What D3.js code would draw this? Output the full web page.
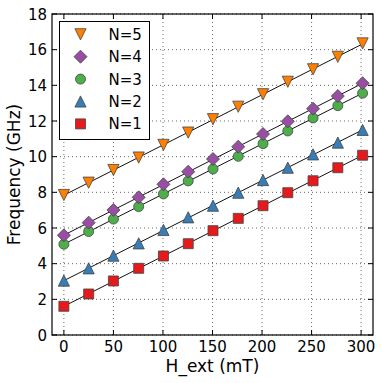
<!DOCTYPE html>
<html>
<head>
<meta charset="utf-8">
<script src="https://cdn.jsdelivr.net/npm/d3@7"></script>
<style>
  body { margin: 0; background: #fff; }
  svg text { font-family: "DejaVu Sans", sans-serif; fill: #000; }
</style>
</head>
<body>
<svg id="chart" width="382" height="383"></svg>
<script>
// --- data ---
const fieldValues = [0, 25, 50, 75.5, 100.5, 125.5, 150.5, 176, 201, 226, 251.5, 276.5, 301.5];
const freqN1 = [1.61, 2.3, 3.03, 3.74, 4.43, 5.12, 5.85, 6.54, 7.25, 7.98, 8.65, 9.38, 10.08];
const freqN2 = [3.05, 3.74, 4.45, 5.14, 5.89, 6.6, 7.25, 7.98, 8.69, 9.38, 10.13, 10.79, 11.5];
const freqN3 = [5.09, 5.8, 6.5, 7.2, 7.91, 8.64, 9.31, 10.02, 10.73, 11.44, 12.17, 12.86, 13.56];
const freqN4 = [5.59, 6.3, 7.01, 7.72, 8.45, 9.16, 9.87, 10.56, 11.27, 11.98, 12.69, 13.4, 14.12];
const freqN5 = [7.85, 8.54, 9.25, 9.95, 10.66, 11.35, 12.1, 12.8, 13.5, 14.2, 14.9, 15.6, 16.35];
const xTicks = [0, 50, 100, 150, 200, 250, 300];
const yTicks = [0, 2, 4, 6, 8, 10, 12, 14, 16, 18];

const series = [
  { name: "N=5", values: freqN5, color: "#ff7f00", shape: "down" },
  { name: "N=4", values: freqN4, color: "#984ea3", shape: "diamond" },
  { name: "N=3", values: freqN3, color: "#4daf4a", shape: "circle" },
  { name: "N=2", values: freqN2, color: "#377eb8", shape: "up" },
  { name: "N=1", values: freqN1, color: "#e41a1c", shape: "square" },
];

// --- layout ---
const margin = { top: 14, right: 9, bottom: 48, left: 52 };
const width = 382, height = 383;
const innerW = width - margin.left - margin.right;
const innerH = height - margin.top - margin.bottom;

const x = d3.scaleLinear().domain([-12, 312]).range([0, innerW]);
const y = d3.scaleLinear().domain([0, 18]).range([innerH, 0]);

const svg = d3.select("#chart");
const g = svg.append("g").attr("transform", `translate(${margin.left},${margin.top})`);

// grid
g.append("g").selectAll("line").data(xTicks).join("line")
  .attr("x1", d => x(d)).attr("x2", d => x(d))
  .attr("y1", 0).attr("y2", innerH)
  .attr("stroke", "#000").attr("stroke-width", 0.6)
  .attr("stroke-dasharray", "1,3");
g.append("g").selectAll("line").data(yTicks).join("line")
  .attr("x1", 0).attr("x2", innerW)
  .attr("y1", d => y(d)).attr("y2", d => y(d))
  .attr("stroke", "#000").attr("stroke-width", 0.6)
  .attr("stroke-dasharray", "1,3");

// tick marks inside, on all four sides
const tl = 5;
const ticks = g.append("g").attr("stroke", "#000").attr("stroke-width", 1);
xTicks.forEach(t => {
  ticks.append("line").attr("x1", x(t)).attr("x2", x(t)).attr("y1", innerH).attr("y2", innerH - tl);
  ticks.append("line").attr("x1", x(t)).attr("x2", x(t)).attr("y1", 0).attr("y2", tl);
});
yTicks.forEach(t => {
  ticks.append("line").attr("x1", 0).attr("x2", tl).attr("y1", y(t)).attr("y2", y(t));
  ticks.append("line").attr("x1", innerW).attr("x2", innerW - tl).attr("y1", y(t)).attr("y2", y(t));
});

// tick labels
g.append("g").selectAll("text").data(xTicks).join("text")
  .attr("x", d => x(d)).attr("y", innerH + 17)
  .attr("text-anchor", "middle").attr("font-size", 15)
  .text(d => d);
g.append("g").selectAll("text").data(yTicks).join("text")
  .attr("x", -5).attr("y", d => y(d) + 5.5)
  .attr("text-anchor", "end").attr("font-size", 15)
  .text(d => d);

// axis labels
svg.append("text")
  .attr("x", margin.left + x(150)).attr("y", 372)
  .attr("text-anchor", "middle").attr("font-size", 17)
  .text("H_ext (mT)");
svg.append("text")
  .attr("transform", `translate(20,${margin.top + innerH / 2}) rotate(-90)`)
  .attr("text-anchor", "middle").attr("font-size", 17)
  .text("Frequency (GHz)");

// markers
function markerPath(shape) {
  const r = 5.6;
  switch (shape) {
    case "down": return `M0,${r}L${-r},${-r}L${r},${-r}Z`;
    case "up": return `M0,${-r}L${-r},${r}L${r},${r}Z`;
    case "diamond": return `M0,${-6.5}L6.5,0L0,6.5L-6.5,0Z`;
    case "square": return `M-5,-5H5V5H-5Z`;
    default: return d3.symbol(d3.symbolCircle, Math.PI * 25)();
  }
}

// linear fit lines, drawn first so markers sit on top
function fit(xs, ys) {
  const mx = d3.mean(xs), my = d3.mean(ys);
  let num = 0, den = 0;
  xs.forEach((v, i) => { num += (v - mx) * (ys[i] - my); den += (v - mx) ** 2; });
  const k = num / den;
  return v => my + k * (v - mx);
}

series.forEach(s => {
  const f = fit(fieldValues, s.values);
  const x0 = fieldValues[0], x1 = fieldValues[fieldValues.length - 1];
  g.append("line")
    .attr("x1", x(x0)).attr("y1", y(f(x0)))
    .attr("x2", x(x1)).attr("y2", y(f(x1)))
    .attr("stroke", "#111").attr("stroke-width", 1);
});

series.slice().reverse().forEach(s => {
  g.append("g").selectAll("path").data(s.values).join("path")
    .attr("transform", (d, i) => `translate(${x(fieldValues[i])},${y(d)})`)
    .attr("d", markerPath(s.shape))
    .attr("fill", s.color)
    .attr("stroke", "#444").attr("stroke-width", 0.8);
});

// frame
g.append("rect").attr("width", innerW).attr("height", innerH)
  .attr("fill", "none").attr("stroke", "#000").attr("stroke-width", 1.2);

// legend
const legend = svg.append("g").attr("transform", "translate(59.5,21.5)");
legend.append("rect").attr("width", 90).attr("height", 118)
  .attr("fill", "#fff").attr("stroke", "#000").attr("stroke-width", 1);
series.forEach((s, i) => {
  const row = legend.append("g").attr("transform", `translate(0,${12.8 + i * 22.4})`);
  row.append("path").attr("transform", "translate(21,0)")
    .attr("d", markerPath(s.shape))
    .attr("fill", s.color).attr("stroke", "#444").attr("stroke-width", 0.8);
  row.append("text").attr("x", 49).attr("y", 5.5)
    .attr("font-size", 15).text(s.name);
});
</script>
</body>
</html>
